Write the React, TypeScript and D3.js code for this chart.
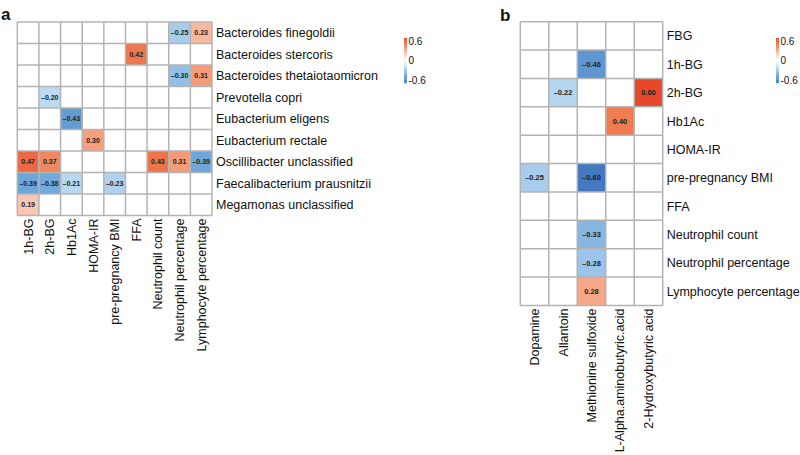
import React from "react";
import * as d3 from "d3";

const aRows = [
  "Bacteroides finegoldii",
  "Bacteroides stercoris",
  "Bacteroides thetaiotaomicron",
  "Prevotella copri",
  "Eubacterium eligens",
  "Eubacterium rectale",
  "Oscillibacter unclassified",
  "Faecalibacterium prausnitzii",
  "Megamonas unclassified",
];
const aCols = [
  "1h-BG",
  "2h-BG",
  "Hb1Ac",
  "HOMA-IR",
  "pre-pregnancy BMI",
  "FFA",
  "Neutrophil count",
  "Neutrophil percentage",
  "Lymphocyte percentage",
];
const aValues: (number | null)[][] = [
  [null, null, null, null, null, null, null, -0.25, 0.23],
  [null, null, null, null, null, 0.42, null, null, null],
  [null, null, null, null, null, null, null, -0.3, 0.31],
  [null, -0.2, null, null, null, null, null, null, null],
  [null, null, -0.43, null, null, null, null, null, null],
  [null, null, null, 0.3, null, null, null, null, null],
  [0.47, 0.37, null, null, null, null, 0.43, 0.31, -0.39],
  [-0.39, -0.38, -0.21, null, -0.23, null, null, null, null],
  [0.19, null, null, null, null, null, null, null, null],
];

const bRows = [
  "FBG",
  "1h-BG",
  "2h-BG",
  "Hb1Ac",
  "HOMA-IR",
  "pre-pregnancy BMI",
  "FFA",
  "Neutrophil count",
  "Neutrophil percentage",
  "Lymphocyte percentage",
];
const bCols = [
  "Dopamine",
  "Allantoin",
  "Methionine sulfoxide",
  "L-Alpha.aminobutyric.acid",
  "2-Hydroxybutyric acid",
];
const bValues: (number | null)[][] = [
  [null, null, null, null, null],
  [null, null, -0.46, null, null],
  [null, -0.22, null, null, 0.6],
  [null, null, null, 0.4, null],
  [null, null, null, null, null],
  [-0.25, null, -0.6, null, null],
  [null, null, null, null, null],
  [null, null, -0.33, null, null],
  [null, null, -0.28, null, null],
  [null, null, 0.28, null, null],
];

const legendTicks = [0.6, 0, -0.6];

const colorStops = [-0.6, -0.4, -0.2, 0, 0.2, 0.4, 0.6];
const colorRange = ["#4479c0", "#6aa3d8", "#bcdaf2", "#ffffff", "#f8c3ae", "#f07c50", "#e8472a"];
const color = d3.scaleLinear<string>().domain(colorStops).range(colorRange).clamp(true);

const FONT = "'Liberation Sans', Arial, Helvetica, sans-serif";
const GRID = "#b3b3b3";

function fmt(v: number) {
  const s = Math.abs(v).toFixed(2);
  return v < 0 ? "\u2013" + s : s;
}

type PanelProps = {
  rows: string[];
  cols: string[];
  values: (number | null)[][];
  x0: number;
  y0: number;
  x1: number;
  y1: number;
  valueFont: number;
  labelFont: number;
};

function Panel({ rows, cols, values, x0, y0, x1, y1, valueFont, labelFont }: PanelProps) {
  const x = d3.scaleBand<string>().domain(cols).range([x0, x1]);
  const y = d3.scaleBand<string>().domain(rows).range([y0, y1]);
  const bw = x.bandwidth();
  const bh = y.bandwidth();
  return (
    <g>
      {rows.map((r, i) =>
        cols.map((c, j) => {
          const v = values[i][j];
          return (
            <rect
              key={r + c}
              x={x(c)}
              y={y(r)}
              width={bw}
              height={bh}
              fill={v === null ? "#ffffff" : color(v)}
            />
          );
        })
      )}
      {d3.range(cols.length + 1).map((k) => (
        <line
          key={"v" + k}
          x1={x0 + k * bw}
          x2={x0 + k * bw}
          y1={y0}
          y2={y1}
          stroke={GRID}
          strokeWidth={1.5}
        />
      ))}
      {d3.range(rows.length + 1).map((k) => (
        <line
          key={"h" + k}
          x1={x0}
          x2={x1}
          y1={y0 + k * bh}
          y2={y0 + k * bh}
          stroke={GRID}
          strokeWidth={1.5}
        />
      ))}
      {rows.map((r, i) =>
        cols.map((c, j) => {
          const v = values[i][j];
          if (v === null) return null;
          return (
            <text
              key={"t" + r + c}
              x={(x(c) as number) + bw / 2}
              y={(y(r) as number) + bh / 2}
              dy="0.35em"
              textAnchor="middle"
              fontSize={valueFont}
              fontWeight="bold"
              fill="#222"
              fontFamily={FONT}
            >
              {fmt(v)}
            </text>
          );
        })
      )}
      {rows.map((r) => (
        <text
          key={"rl" + r}
          x={x1 + 4}
          y={(y(r) as number) + bh / 2}
          dy="0.36em"
          fontSize={labelFont}
          fill="#111"
          fontFamily={FONT}
        >
          {r}
        </text>
      ))}
      {cols.map((c) => {
        const cx = (x(c) as number) + bw / 2;
        const ty = y1 + 3;
        return (
          <text
            key={"cl" + c}
            transform={`translate(${cx},${ty}) rotate(-90)`}
            dy="0.36em"
            textAnchor="end"
            fontSize={labelFont}
            fill="#111"
            fontFamily={FONT}
          >
            {c}
          </text>
        );
      })}
    </g>
  );
}

function Legend({ x, y0, y1 }: { x: number; y0: number; y1: number }) {
  const ly = d3.scaleLinear().domain([0.6, -0.6]).range([y0, y1]);
  const steps = d3.range(0, 61).map((k) => 0.6 - (k * 1.2) / 60);
  const h = (y1 - y0) / 60;
  return (
    <g>
      {steps.slice(0, 60).map((s, k) => (
        <rect key={k} x={x} y={ly(s)} width={3} height={h + 0.3} fill={color(s - 0.01)} />
      ))}
      {legendTicks.map((t) => (
        <text
          key={t}
          x={x + 4.5}
          y={ly(t) + (t === 0.6 ? 3 : t === -0.6 ? -3 : 0)}
          dy="0.35em"
          fontSize={10}
          fill="#111"
          fontFamily={FONT}
        >
          {t === 0 ? "0" : t.toFixed(1)}
        </text>
      ))}
    </g>
  );
}

export default function App() {
  return (
    <div style={{ position: "absolute", left: 0, top: 0 }}>
      <svg width={800} height={455} style={{ display: "block", background: "#fff" }}>
        <text x={1} y={20} fontSize={17} fontWeight="bold" fontFamily={FONT} fill="#111">
          a
        </text>
        <text x={500} y={21} fontSize={17} fontWeight="bold" fontFamily={FONT} fill="#111">
          b
        </text>
        <Panel
          rows={aRows}
          cols={aCols}
          values={aValues}
          x0={17.3}
          y0={22}
          x1={212}
          y1={215.5}
          valueFont={7}
          labelFont={12.5}
        />
        <Panel
          rows={bRows}
          cols={bCols}
          values={bValues}
          x0={520.3}
          y0={21.7}
          x1={662.7}
          y1={305.5}
          valueFont={7.5}
          labelFont={12.5}
        />
        <Legend x={404} y0={38} y1={83} />
        <Legend x={776} y0={38} y1={83} />
      </svg>
    </div>
  );
}
